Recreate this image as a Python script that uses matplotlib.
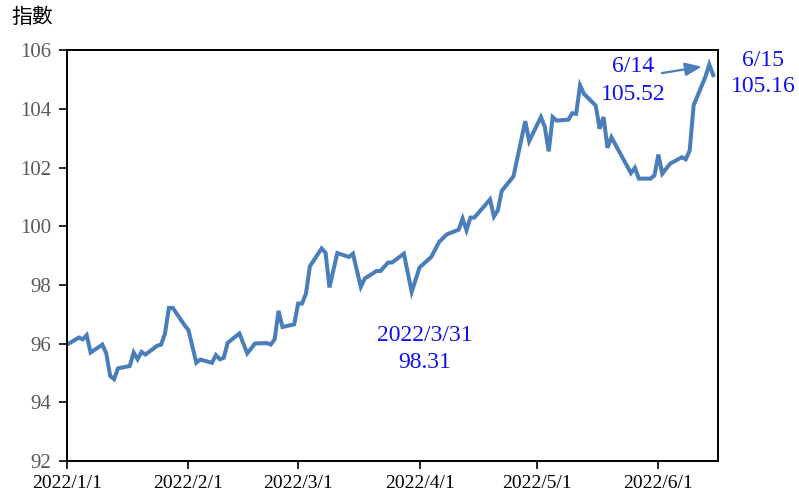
import matplotlib
matplotlib.use("Agg")
import matplotlib.pyplot as plt
from datetime import datetime, timedelta

# index values (date, value)
dates = ["2022-01-01", "2022-01-04", "2022-01-05", "2022-01-06", "2022-01-07", "2022-01-10",
         "2022-01-11", "2022-01-12", "2022-01-13", "2022-01-14", "2022-01-17", "2022-01-18",
         "2022-01-19", "2022-01-20", "2022-01-21", "2022-01-24", "2022-01-25", "2022-01-26",
         "2022-01-27", "2022-01-28", "2022-01-31", "2022-02-01", "2022-02-03", "2022-02-04",
         "2022-02-07", "2022-02-08", "2022-02-09", "2022-02-10", "2022-02-11", "2022-02-14",
         "2022-02-16", "2022-02-18", "2022-02-21", "2022-02-22", "2022-02-23", "2022-02-24",
         "2022-02-25", "2022-02-28", "2022-03-01", "2022-03-02", "2022-03-03", "2022-03-04",
         "2022-03-07", "2022-03-08", "2022-03-09", "2022-03-11", "2022-03-14", "2022-03-15",
         "2022-03-17", "2022-03-18", "2022-03-21", "2022-03-22", "2022-03-24", "2022-03-25",
         "2022-03-28", "2022-03-30", "2022-04-01", "2022-04-04", "2022-04-06", "2022-04-08",
         "2022-04-11", "2022-04-12", "2022-04-13", "2022-04-14", "2022-04-15", "2022-04-19",
         "2022-04-20", "2022-04-21", "2022-04-22", "2022-04-25", "2022-04-28", "2022-04-29",
         "2022-05-02", "2022-05-03", "2022-05-04", "2022-05-05", "2022-05-06", "2022-05-09",
         "2022-05-10", "2022-05-11", "2022-05-12", "2022-05-13", "2022-05-16", "2022-05-17",
         "2022-05-18", "2022-05-19", "2022-05-20", "2022-05-25", "2022-05-26", "2022-05-27",
         "2022-05-30", "2022-05-31", "2022-06-01", "2022-06-02", "2022-06-04", "2022-06-07",
         "2022-06-08", "2022-06-09", "2022-06-10", "2022-06-13", "2022-06-14", "2022-06-15"]
values = [95.97, 96.21, 96.15, 96.29, 95.70, 95.97,
          95.67, 94.90, 94.79, 95.16, 95.24, 95.70,
          95.47, 95.72, 95.63, 95.93, 95.97, 96.35,
          97.22, 97.22, 96.63, 96.46, 95.35, 95.46,
          95.35, 95.61, 95.47, 95.52, 96.03, 96.35,
          95.67, 96.01, 96.02, 95.97, 96.15, 97.12,
          96.57, 96.66, 97.37, 97.37, 97.71, 98.64,
          99.25, 99.10, 97.92, 99.09, 98.96, 99.07,
          97.94, 98.22, 98.48, 98.48, 98.77, 98.77,
          99.07, 97.77, 98.60, 98.96, 99.47, 99.73,
          99.89, 100.27, 99.87, 100.30, 100.30, 100.92,
          100.34, 100.55, 101.21, 101.71, 103.59, 102.91,
          103.73, 103.39, 102.56, 103.73, 103.61, 103.64,
          103.86, 103.84, 104.81, 104.52, 104.12, 103.33,
          103.73, 102.68, 103.04, 101.82, 102.00, 101.63,
          101.63, 101.74, 102.45, 101.80, 102.14, 102.36,
          102.29, 102.59, 104.13, 105.10, 105.52, 105.16]

tick_dates = ["2022-01-01", "2022-02-01", "2022-03-01", "2022-04-01", "2022-05-01", "2022-06-01"]
tick_labels = ["2022/1/1", "2022/2/1", "2022/3/1", "2022/4/1", "2022/5/1", "2022/6/1"]
y_ticks = [92, 94, 96, 98, 100, 102, 104, 106]

x = [datetime.strptime(d, "%Y-%m-%d") for d in dates]
xt = [datetime.strptime(d, "%Y-%m-%d") for d in tick_dates]

serif = "Liberation Serif"
line_color = "#4A7EBB"
note_color = "#1010F0"

fig = plt.figure(figsize=(7.99, 4.94), dpi=100)
ax = fig.add_axes([0.0835, 0.0668, 0.815, 0.831])

ax.plot(x, values, color=line_color, lw=2.9, solid_joinstyle="miter")

start = datetime(2022, 1, 1)
ax.set_xlim(start - timedelta(days=0.1), start + timedelta(days=166.2))
ax.set_ylim(92, 106)
ax.set_yticks(y_ticks)
ax.set_xticks(xt)
ax.set_xticklabels(tick_labels, family=serif, fontsize=14, color="black")
ax.set_yticklabels([str(v) for v in y_ticks], family=serif, fontsize=15, color="#595959")
ax.tick_params(axis="x", direction="out", length=6, width=1.2, pad=4)
ax.tick_params(axis="y", direction="out", length=6, width=1.2, pad=5)
for s in ax.spines.values():
    s.set_linewidth(1.4)
    s.set_color("black")

fig.text(0.014, 0.965, "指數", family=["Noto Sans CJK TC", "DejaVu Sans"],
         fontsize=15, ha="left", va="center")

# annotations
ax.annotate("", xy=(datetime(2022, 6, 12, 2), 105.45), xytext=(datetime(2022, 6, 1, 22), 105.23),
            arrowprops=dict(arrowstyle="-|>,head_length=1.0,head_width=0.4",
                            color=line_color, lw=1.6, shrinkA=0, shrinkB=0))
fig.text(633 / 799, 1 - 67 / 494, "6/14", family=serif, fontsize=17, color=note_color,
         ha="center", va="center")
fig.text(633 / 799, 1 - 94 / 494, "105.52", family=serif, fontsize=17, color=note_color,
         ha="center", va="center")
fig.text(763 / 799, 1 - 61 / 494, "6/15", family=serif, fontsize=17, color=note_color,
         ha="center", va="center")
fig.text(763 / 799, 1 - 86 / 494, "105.16", family=serif, fontsize=17, color=note_color,
         ha="center", va="center")
fig.text(425 / 799, 1 - 335 / 494, "2022/3/31", family=serif, fontsize=17, color=note_color,
         ha="center", va="center")
fig.text(425 / 799, 1 - 363 / 494, "98.31", family=serif, fontsize=17, color=note_color,
         ha="center", va="center")

fig.savefig("out.png", dpi=100)
